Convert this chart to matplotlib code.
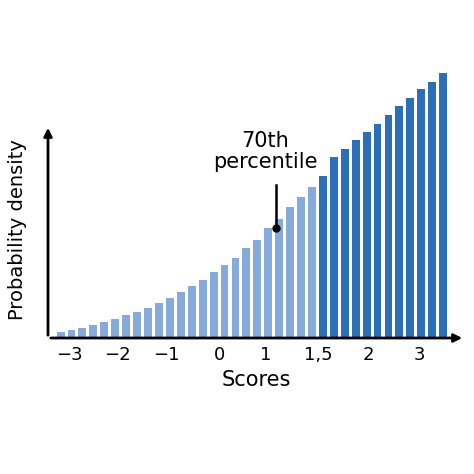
import matplotlib
matplotlib.use("Agg")
import matplotlib.pyplot as plt

light = [17,23,31,38,47,57,68,79,91,104,119,137,156,175,197,219,241,270,295,329,357,393,423,451]
dark = [484,541,567,592,617,642,668,694,720,746,767,794]
tick_pos = [0.85,5.2,9.7,14.5,18.75,23.6,28.2,32.8]
tick_labels = ["\u22123","\u22122","\u22121","0","1","1,5","2","3"]

fig = plt.figure(figsize=(4.74,4.74), dpi=100)
ax = fig.add_axes([48/474, 1-338/474, (465-48)/474, (338-73)/474])
n1 = len(light)
ax.bar(range(n1), light, width=0.72, color="#86aadb")
ax.bar(range(n1, n1+len(dark)), dark, width=0.72, color="#2c6fb9")
ax.set_xlim(-1.15, 37.0)
ax.set_ylim(0, 794)
for s in ax.spines.values():
    s.set_visible(False)
ax.set_yticks([])
ax.set_xticks(tick_pos)
ax.set_xticklabels(tick_labels, fontsize=13)
ax.tick_params(axis="x", length=0, pad=6)
ax.annotate("", xy=(0, (338-125)/265), xytext=(0, 0), xycoords="axes fraction",
            arrowprops=dict(arrowstyle="-|>", color="black", lw=2, mutation_scale=12))
ax.annotate("", xy=(1.0, 0), xytext=(0, 0), xycoords="axes fraction",
            arrowprops=dict(arrowstyle="-|>", color="black", lw=2, mutation_scale=12))
ax.set_xlabel("Scores", fontsize=15, labelpad=4)
ax.set_ylabel("Probability density", fontsize=14, labelpad=6)
ax.yaxis.set_label_coords(-0.05, 0.41)
# annotation
xd = (277-60.7)/10.95
ax.plot([xd], [(338-228)*3], "o", color="black", ms=5)
ax.plot([xd, xd], [(338-228)*3, (338-185)*3], color="black", lw=1.8)
ax.text(xd-1.0, (338-172)*3, "70th\npercentile", ha="center", va="bottom", fontsize=15,
        linespacing=1.05)
fig.savefig("out.png", dpi=100, facecolor="white")
